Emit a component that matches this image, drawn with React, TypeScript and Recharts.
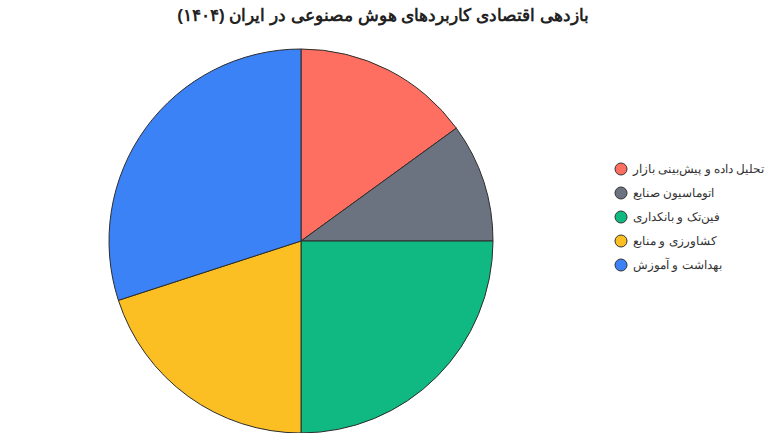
import { PieChart, Pie, Cell, Legend } from "recharts";

const CATEGORIES = [
  "تحلیل داده و پیش‌بینی بازار",
  "اتوماسیون صنایع",
  "فین‌تک و بانکداری",
  "کشاورزی و منابع",
  "بهداشت و آموزش",
];
const VALUES = [15, 10, 25, 20, 30];
const COLORS = ["#FF6F61", "#6B7280", "#10B981", "#FBBF24", "#3B82F6"];
const TITLE = "بازدهی اقتصادی کاربردهای هوش مصنوعی در ایران (۱۴۰۴)";

const data = CATEGORIES.map((name, i) => ({ name, value: VALUES[i], color: COLORS[i] }));

function LegendList() {
  return (
    <div style={{ display: "flex", flexDirection: "column", gap: 6 }}>
      {data.map((d) => (
        <div key={d.name} style={{ display: "flex", alignItems: "center", height: 18, whiteSpace: "nowrap" }}>
          <svg width={14} height={14} style={{ marginRight: 5, flexShrink: 0 }}>
            <circle cx={7} cy={7} r={6} fill={d.color} stroke="#333" strokeWidth={1} />
          </svg>
          <span style={{ fontSize: 12, color: "#333", fontFamily: "Arial, Helvetica, sans-serif" }}>{d.name}</span>
        </div>
      ))}
    </div>
  );
}

export default function App() {
  return (
    <div style={{ position: "absolute", left: 0, top: 0, width: 766, height: 433, background: "#fff", overflow: "hidden" }}>
      <div
        style={{
          position: "absolute",
          top: 5,
          left: 0,
          width: 766,
          textAlign: "center",
          fontFamily: "Arial, Helvetica, sans-serif",
          fontWeight: "bold",
          fontSize: 17,
          color: "#222",
          direction: "rtl",
        }}
      >
        {TITLE}
      </div>
      <PieChart width={766} height={433}>
        <Pie
          data={data}
          dataKey="value"
          nameKey="name"
          cx={296}
          cy={236}
          outerRadius={192}
          startAngle={90}
          endAngle={-270}
          stroke="#2d2d2d"
          strokeWidth={1}
          isAnimationActive={false}
        >
          {data.map((d) => (
            <Cell key={d.name} fill={d.color} />
          ))}
        </Pie>
        <Legend
          layout="vertical"
          align="right"
          verticalAlign="middle"
          wrapperStyle={{ left: 614, top: 160, width: 152 }}
          content={() => <LegendList />}
        />
      </PieChart>
    </div>
  );
}
